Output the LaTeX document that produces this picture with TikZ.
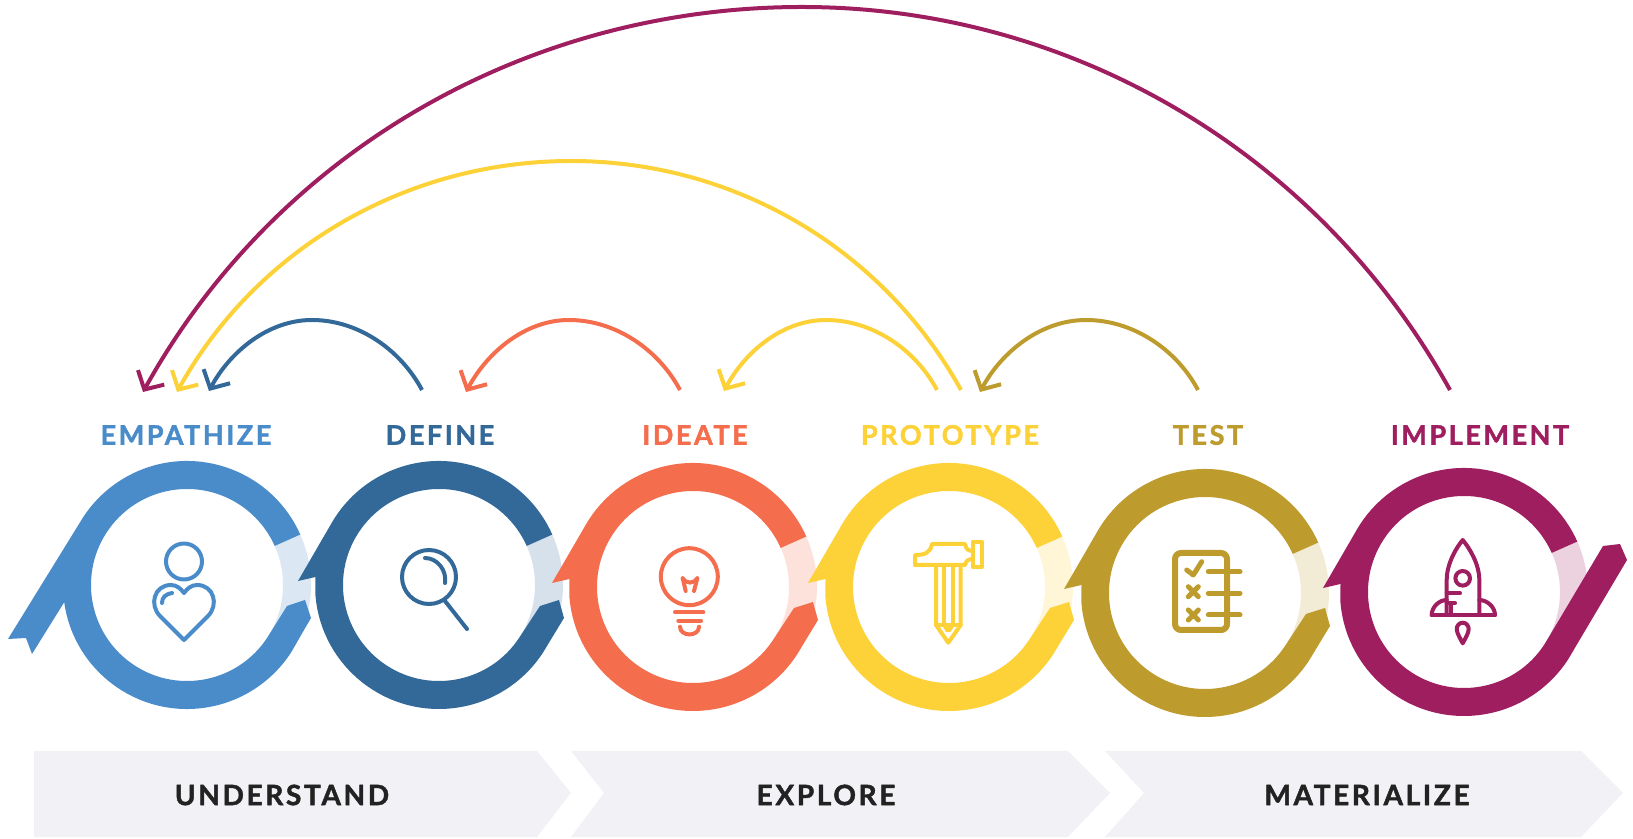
\documentclass[tikz,border=0pt]{standalone}
\usepackage{fontspec}
\setmainfont{Lato}
\newfontfamily\stagefont[LetterSpace=9.5, FakeBold=1.6]{Lato Bold}
\usetikzlibrary{arrows.meta,positioning}
\definecolor{empblue}{HTML}{4A8CCA}
\definecolor{defblue}{HTML}{336999}
\definecolor{ideorange}{HTML}{F46D4D}
\definecolor{proyellow}{HTML}{FDD138}
\definecolor{testgold}{HTML}{BD9B2D}
\definecolor{implpurple}{HTML}{9E1E5F}
\definecolor{bandgrey}{HTML}{F1F1F6}
\definecolor{bandtext}{HTML}{222222}

\begin{document}
\begin{tikzpicture}[x=1pt, y=1pt, line join=round]

	\tikzstyle{stage}=[font=\stagefont\fontsize{27}{29}\selectfont, inner sep=0pt, anchor=center]
	\tikzstyle{phase}=[font=\stagefont\fontsize{28}{30}\selectfont, text=bandtext, inner sep=0pt, anchor=center]
	\tikzstyle{loopback}=[line width=4pt, -{Straight Barb[length=14pt, width=30pt, line width=4pt]}]
	\tikzstyle{icon}=[line width=4pt, line cap=round]

	\useasboundingbox (0,0) rectangle (1633,838);

	% Phase bands
	\fill[bandgrey] (34,87) -- (537,87) -- (571,45) -- (537,1) -- (34,1) -- cycle;
	\fill[bandgrey] (571,87) -- (1068,87) -- (1110,45) -- (1068,1) -- (571,1) -- (604,45) -- cycle;
	\fill[bandgrey] (1105,87) -- (1581,87) -- (1623,45) -- (1581,1) -- (1105,1) -- (1144,45) -- cycle;
	\node[phase] (understand) at (282,43) {UNDERSTAND};
	\node[phase] (explore) at (826,43) {EXPLORE};
	\node[phase] (materialize) at (1367,43) {MATERIALIZE};

	% Stage names
	\node[stage, text=empblue] (empathize) at (186,403) {EMPATHIZE};
	\node[stage, text=defblue] (define) at (440,403) {DEFINE};
	\node[stage, text=ideorange] (ideate) at (695,403) {IDEATE};
	\node[stage, text=proyellow] (prototype) at (950,403) {PROTOTYPE};
	\node[stage, text=testgold] (test) at (1208,403) {TEST};
	\node[stage, text=implpurple] (implement) at (1480,403) {IMPLEMENT};

	% Light parts of the rings
	\foreach \cx/\cy/\col in {187/253/empblue, 439/253/defblue, 693/251/ideorange, 949/251/proyellow, 1205/245/testgold, 1464/246/implpurple}{
		\fill[\col!20, shift={(\cx,\cy)}] (24:124) arc[start angle=24, end angle=-42, radius=124] -- (-42:96) arc[start angle=-42, end angle=24, radius=96] -- cycle;
	}

	% Rings
	\fill[empblue, shift={(187,253)}] (24:124) arc[start angle=24, end angle=147, radius=124] -- (-179,-54) -- (-161,-53) -- (-155,-69) -- (188:124) arc[start angle=188, end angle=327, radius=124] -- (124,-33) -- (118,-15) -- (100,-21) -- (-33:96) arc[start angle=-33, end angle=-336, radius=96] -- cycle;
	\foreach \cx/\cy/\col in {439/253/defblue, 693/251/ideorange, 949/251/proyellow, 1205/245/testgold}{
		\fill[\col, shift={(\cx,\cy)}] (24:124) arc[start angle=24, end angle=149, radius=124] -- (-141,4) -- (-123.5,8) -- (184:124) arc[start angle=184, end angle=327, radius=124] -- (125,-33) -- (120,-15) -- (101,-21) -- (-33:96) arc[start angle=-33, end angle=-336, radius=96] -- cycle;
	}
	\fill[implpurple, shift={(1464,246)}] (24:124) arc[start angle=24, end angle=149, radius=124] -- (-141,4) -- (-123.5,8) -- (184:124) arc[start angle=184, end angle=327, radius=124] -- (163,32) -- (156,48) -- (139,46) -- (-33:96) arc[start angle=-33, end angle=-336, radius=96] -- cycle;

	% Icons
	\begin{scope}[shift={(187,253)}, icon, draw=empblue]
		\draw (-3,23.5) circle (18);
		\draw (-3,-55) -- (-27,-31) .. controls (-38,-20) and (-33,0) .. (-16,0) .. controls (-10,0) and (-6,-4) .. (-3,-8) .. controls (0,-4) and (4,0) .. (10,0) .. controls (27,0) and (32,-20) .. (21,-31) -- cycle;
		\draw (-25,-18) .. controls (-25,-12) and (-21,-9) .. (-15,-8);
	\end{scope}
	\begin{scope}[shift={(439,253)}, icon, draw=defblue]
		\draw (-10,8) circle (27);
		\draw (-14,27) .. controls (-2,27) and (8,15) .. (6,2);
		\draw (6,-16) -- (28,-44);
	\end{scope}
	\begin{scope}[shift={(693,251)}, icon, draw=ideorange]
		\draw (-3.7,10.3) circle (28.5);
		\draw (-10.3,8.7) -- (-7.3,-4);
		\draw (4.3,8.7) -- (1,-4);
		\draw (-10.3,8.7) .. controls (-7,3) and (1,3) .. (4.3,8.7);
		\draw (-18,-25.3) -- (10.3,-25.3);
		\draw (-14.7,-33.7) -- (8,-33.7);
		\draw (-13,-39.7) .. controls (-13,-50) and (6,-50) .. (6,-39.7);
	\end{scope}
	\begin{scope}[shift={(949,251)}, icon, draw=proyellow]
		\draw (-34,22) -- (-34,32) .. controls (-24,32) and (-19,34) .. (-17,43) -- (16,43) .. controls (17,38) and (19,36) .. (24,36);
		\draw (-34,22) -- (16,22) .. controls (17,26) and (19,28) .. (24,28);
		\draw (24,19.7) rectangle (32.7,45.3);
		\draw (-13,22) -- (-13,-38) -- (-0.7,-55.7) -- (11.7,-38) -- (11.7,22);
		\draw (-5,22) -- (-5,-38);
		\draw (3.7,22) -- (3.7,-38);
		\draw (-13,-38) -- (11.7,-38);
		\fill[proyellow] (-7,-38) -- (6,-38) -- (1.5,-45) -- (-3,-45) -- cycle;
	\end{scope}
	\begin{scope}[shift={(1205,245)}, icon, draw=testgold]
		\draw[line width=6pt, rounded corners=6pt] (-30,40) rectangle (22,-37);
		\draw[line width=5pt] (-18.3,23) -- (-11.7,18) -- (-3.3,31.3);
		\draw[line width=5pt] (-16.7,6.3) -- (-6.7,-3.7) (-16.7,-3.7) -- (-6.7,6.3);
		\draw[line width=5pt] (-16.7,-17) -- (-6.7,-27) (-16.7,-27) -- (-6.7,-17);
		\draw[line width=5pt] (3.3,21.3) -- (35,21.3) (3.3,-0.3) -- (35,-0.3) (3.3,-22) -- (35,-22);
	\end{scope}
	\begin{scope}[shift={(1464,246)}, icon, draw=implpurple]
		\draw (-17.3,-23) -- (-17.3,12) .. controls (-17.3,28) and (-8,44) .. (-1.3,52) .. controls (5.4,44) and (15.3,28) .. (15.3,12) -- (15.3,-23);
		\draw (-32.3,-23) -- (31,-23);
		\draw (-32.3,-23) .. controls (-32.3,-15) and (-25,-8) .. (-17.3,-8);
		\draw (31,-23) .. controls (31,-15) and (23,-8) .. (15.3,-8);
		\draw (-1.3,13.7) circle (7.3);
		\draw (-17.3,-1.3) -- (-4,-1.3);
		\draw (-17.3,-11.3) -- (-9,-11.3);
		\draw (-13.3,-11.3) -- (-13.3,-23);
		\draw (-1.3,-30.7) .. controls (-5,-30.7) and (-7.3,-34) .. (-7.3,-37) .. controls (-7.3,-41) and (-3.5,-47) .. (-1.3,-51.3) .. controls (1,-47) and (4.7,-41) .. (4.7,-37) .. controls (4.7,-34) and (2.4,-30.7) .. (-1.3,-30.7) -- cycle;
	\end{scope}

	% Loop arrows
	\coordinate (empin1) at (143,446);
	\coordinate (empin2) at (177,446);
	\coordinate (empin3) at (209,447);
	\coordinate (defin) at (466,446);
	\coordinate (idein) at (724,447);
	\coordinate (proin) at (980,446);
	\coordinate (defout) at (422,448);
	\coordinate (ideout) at (680,448);
	\coordinate (proout1) at (937,448);
	\coordinate (proout2) at (961,448);
	\coordinate (testout) at (1198,448);
	\coordinate (implout) at (1450,448);
	\coordinate (defpeak) at (312,518);
	\coordinate (idepeak) at (569,518);
	\coordinate (propeak1) at (826,518);
	\coordinate (testpeak) at (1086,518);
	\coordinate (propeak2) at (571,677);
	\coordinate (implpeak) at (802,831);
	\draw[loopback, defblue] (defout) to[out=118, in=0, looseness=0.9] (defpeak) to[out=180, in=62, looseness=0.9] (empin3);
	\draw[loopback, ideorange] (ideout) to[out=118, in=0, looseness=0.9] (idepeak) to[out=180, in=62, looseness=0.9] (defin);
	\draw[loopback, proyellow] (proout1) to[out=118, in=0, looseness=0.9] (propeak1) to[out=180, in=62, looseness=0.9] (idein);
	\draw[loopback, testgold] (testout) to[out=118, in=0, looseness=0.9] (testpeak) to[out=180, in=62, looseness=0.9] (proin);
	\draw[loopback, proyellow] (proout2) to[out=119, in=0, looseness=0.92] (propeak2) to[out=180, in=61, looseness=0.92] (empin2);
	\draw[loopback, implpurple] (implout) to[out=119, in=0, looseness=0.92] (implpeak) to[out=180, in=61, looseness=0.92] (empin1);

\end{tikzpicture}
\end{document}
